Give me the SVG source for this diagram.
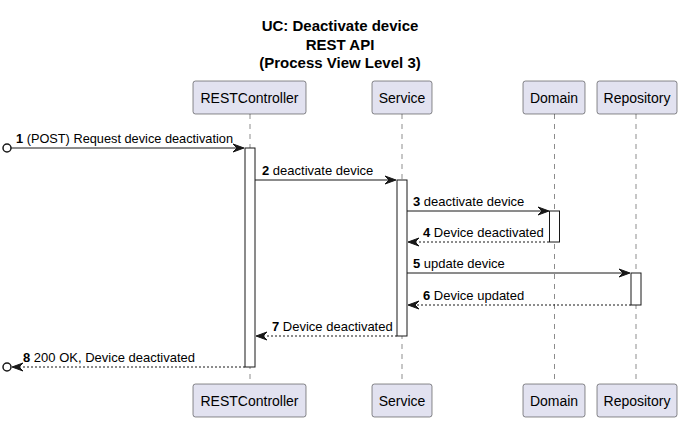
<svg xmlns="http://www.w3.org/2000/svg" width="682" height="422" viewBox="0 0 682 422">
<style>
.title{font-family:"Liberation Sans",Arial,sans-serif;font-size:15px;font-weight:bold;fill:#000;text-anchor:middle}
.pbox{fill:#E2E2F0;stroke:#181818;stroke-width:0.5}
.ptxt{font-family:"Liberation Sans",Arial,sans-serif;font-size:14px;fill:#000;text-anchor:middle}
.life{stroke:#181818;stroke-width:0.5;stroke-dasharray:5,5;fill:none}
.act{fill:#FFFFFF;stroke:#181818;stroke-width:1}
.msg{stroke:#181818;stroke-width:1;fill:none}
.ret{stroke:#181818;stroke-width:1;fill:none;stroke-dasharray:2,2}
.head{fill:#181818;stroke:#181818;stroke-width:1}
.lbl{font-family:"Liberation Sans",Arial,sans-serif;font-size:13px;fill:#000}
.num{font-weight:bold}
.circ{fill:none;stroke:#181818;stroke-width:1.5}
</style>
<rect width="682" height="422" fill="#FFFFFF"/>
<g id="title">
<text class="title" x="340" y="31">UC: Deactivate device</text>
<text class="title" x="340" y="49.5">REST API</text>
<text class="title" x="340" y="68">(Process View Level 3)</text>
</g>
<g id="lifelines">
<line class="life" x1="250" y1="114" x2="250" y2="384"/>
<line class="life" x1="402" y1="114" x2="402" y2="384"/>
<line class="life" x1="554.5" y1="114" x2="554.5" y2="384"/>
<line class="life" x1="636" y1="114" x2="636" y2="384"/>
</g>
<g id="RESTController">
<rect class="pbox" x="193" y="81" width="113" height="33" rx="2.5"/>
<text class="ptxt" x="249.5" y="103">RESTController</text>
<rect class="pbox" x="193" y="384" width="113" height="33" rx="2.5"/>
<text class="ptxt" x="249.5" y="406">RESTController</text>
<rect class="act" x="245" y="148" width="10" height="219"/>
</g>
<g id="Service">
<rect class="pbox" x="372" y="81" width="60" height="33" rx="2.5"/>
<text class="ptxt" x="402" y="103">Service</text>
<rect class="pbox" x="372" y="384" width="60" height="33" rx="2.5"/>
<text class="ptxt" x="402" y="406">Service</text>
<rect class="act" x="397" y="180" width="10" height="156"/>
</g>
<g id="Domain">
<rect class="pbox" x="523" y="81" width="62" height="33" rx="2.5"/>
<text class="ptxt" x="554" y="103">Domain</text>
<rect class="pbox" x="523" y="384" width="62" height="33" rx="2.5"/>
<text class="ptxt" x="554" y="406">Domain</text>
<rect class="act" x="549.5" y="211" width="10" height="31"/>
</g>
<g id="Repository">
<rect class="pbox" x="597" y="81" width="80" height="33" rx="2.5"/>
<text class="ptxt" x="637" y="103">Repository</text>
<rect class="pbox" x="597" y="384" width="80" height="33" rx="2.5"/>
<text class="ptxt" x="637" y="406">Repository</text>
<rect class="act" x="631" y="273" width="10" height="32"/>
</g>
<g id="connectors">
<circle class="circ" cx="7" cy="148" r="4"/>
<line class="msg" x1="11" y1="148" x2="243" y2="148"/>
<polygon class="head" points="233,144 244,148 233,152 237,148"/>
<text class="lbl" x="16" y="143" textLength="217" lengthAdjust="spacingAndGlyphs"><tspan class="num">1</tspan> (POST) Request device deactivation</text>

<line class="msg" x1="255" y1="180" x2="395" y2="180"/>
<polygon class="head" points="385,176 396,180 385,184 389,180"/>
<text class="lbl" x="262" y="175"><tspan class="num">2</tspan> deactivate device</text>

<line class="msg" x1="407" y1="211" x2="548" y2="211"/>
<polygon class="head" points="538,207 549,211 538,215 542,211"/>
<text class="lbl" x="413" y="206"><tspan class="num">3</tspan> deactivate device</text>

<line class="ret" x1="549" y1="242" x2="409" y2="242"/>
<polygon class="head" points="419,238 408,242 419,246 415,242"/>
<text class="lbl" x="423" y="237"><tspan class="num">4</tspan> Device deactivated</text>

<line class="msg" x1="407" y1="273" x2="629" y2="273"/>
<polygon class="head" points="619,269 630,273 619,277 623,273"/>
<text class="lbl" x="413" y="268"><tspan class="num">5</tspan> update device</text>

<line class="ret" x1="631" y1="305" x2="409" y2="305"/>
<polygon class="head" points="419,301 408,305 419,309 415,305"/>
<text class="lbl" x="423" y="300"><tspan class="num">6</tspan> Device updated</text>

<line class="ret" x1="397" y1="336" x2="257" y2="336"/>
<polygon class="head" points="267,332 256,336 267,340 263,336"/>
<text class="lbl" x="272" y="331"><tspan class="num">7</tspan> Device deactivated</text>

<line class="ret" x1="245" y1="367" x2="13" y2="367"/>
<polygon class="head" points="23,363 12,367 23,371 19,367"/>
<circle class="circ" cx="7" cy="367" r="4"/>
<text class="lbl" x="23" y="362"><tspan class="num">8</tspan> 200 OK, Device deactivated</text>
</g>
</svg>
